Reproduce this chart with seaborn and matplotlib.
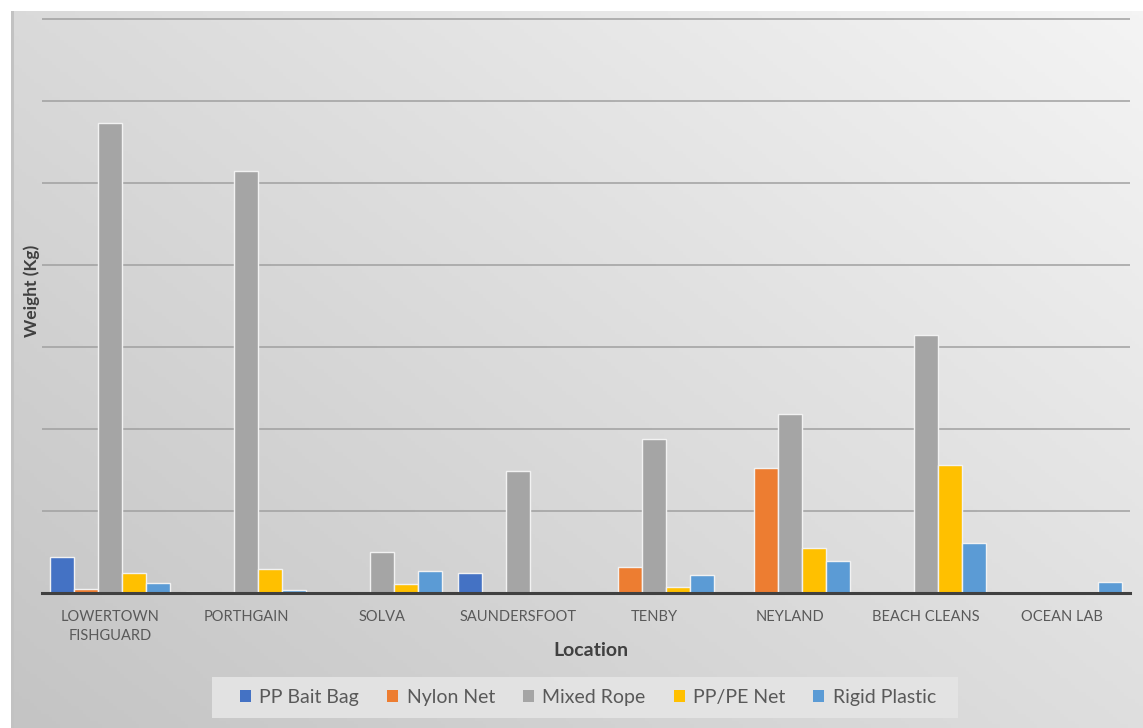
import numpy as np
import pandas as pd
import matplotlib
matplotlib.use("Agg")
import matplotlib.pyplot as plt
from matplotlib.colors import LinearSegmentedColormap
from matplotlib.patches import Patch, Rectangle
import seaborn as sns

locations = ["LOWERTOWN\nFISHGUARD", "PORTHGAIN", "SOLVA", "SAUNDERSFOOT",
             "TENBY", "NEYLAND", "BEACH CLEANS", "OCEAN LAB"]
materials = ["PP Bait Bag", "Nylon Net", "Mixed Rope", "PP/PE Net", "Rigid Plastic"]

pp_bait_bag = [4.4, 0.1, 0.0, 2.5, 0.0, 0.0, 0.0, 0.1]
nylon_net = [0.5, 0.0, 0.0, 0.0, 3.2, 15.2, 0.0, 0.1]
mixed_rope = [57.3, 51.5, 5.0, 14.9, 18.8, 21.8, 31.5, 0.1]
pp_pe_net = [2.4, 2.9, 1.1, 0.0, 0.7, 5.5, 15.6, 0.1]
rigid_plastic = [1.2, 0.4, 2.7, 0.0, 2.2, 3.9, 6.1, 1.4]

palette = ["#4472C4", "#ED7D31", "#A5A5A5", "#FFC000", "#5B9BD5"]

df = pd.DataFrame({
    "Location": locations * 5,
    "Material": np.repeat(materials, len(locations)),
    "Weight": pp_bait_bag + nylon_net + mixed_rope + pp_pe_net + rigid_plastic,
})

W, H = 1143, 728
fig = plt.figure(figsize=(W / 100, H / 100), dpi=100)
fig.patch.set_facecolor("white")

# soft diagonal gradient panel behind the chart
bg = fig.add_axes([11 / W, 0, 1 - 11 / W, 1 - 11 / H], zorder=0)
yy, xx = np.mgrid[0:1:200j, 0:1:300j]
t = 0.55 * xx + 0.45 * (1 - yy)
cmap = LinearSegmentedColormap.from_list("panel", ["#c4c4c4", "#dcdcdc", "#f4f4f4"])
bg.imshow(t, cmap=cmap, aspect="auto", extent=[0, 1, 0, 1], origin="upper")
bg.set_axis_off()
fig.add_artist(Rectangle((11 / W, 0), 3 / W, 1 - 11 / H, transform=fig.transFigure,
                         facecolor="#c2c2c2", edgecolor="none", zorder=0.5))

ax = fig.add_axes([42 / W, 135 / H, (1130 - 42) / W, 582 / H], zorder=1)
ax.patch.set_alpha(0)

sns.barplot(data=df, x="Location", y="Weight", hue="Material", hue_order=materials,
            palette=palette, width=0.88, edgecolor="#f2f2f2", linewidth=1.0,
            saturation=1, errorbar=None, ax=ax, legend=False, zorder=3)

ax.set_ylim(0, 71)
ax.set_xlim(-0.5, len(locations) - 0.5)
ax.set_yticks(np.arange(10, 71, 10))
ax.set_yticklabels([])
ax.tick_params(axis="y", length=0)
ax.tick_params(axis="x", length=0, pad=12, labelsize=10.5, labelcolor="#595959")
for lab in ax.get_xticklabels():
    lab.set_fontfamily("Lato")
    lab.set_linespacing(1.5)
ax.grid(axis="y", color="#a0a0a0", linewidth=1.1, zorder=0)
ax.set_axisbelow(True)
for s in ["top", "right", "left"]:
    ax.spines[s].set_visible(False)
ax.spines["bottom"].set_color("#404040")
ax.spines["bottom"].set_linewidth(2.2)
ax.spines["bottom"].set_zorder(4)

ax.set_xlabel("")
ax.set_ylabel("")
fig.text(591 / W, 1 - 650 / H, "Location", fontsize=14, fontweight="bold",
         color="#404040", family="Lato", ha="center", va="center")
fig.text(32 / W, 1 - 291 / H, "Weight (Kg)", fontsize=12.5, fontweight="bold",
         color="#404040", family="Lato", ha="center", va="center", rotation=90)

# legend strip
fig.add_artist(Rectangle((212 / W, 1 - 718 / H), (958 - 212) / W, 41 / H,
                         transform=fig.transFigure, facecolor="#e4e4e4",
                         edgecolor="none", alpha=0.95, zorder=2))
handles = [Patch(facecolor=c, edgecolor="none", label=m) for c, m in zip(palette, materials)]
leg = fig.legend(handles=handles, loc="center", bbox_to_anchor=(588 / W, 1 - 697 / H),
                 ncol=5, frameon=False, handlelength=0.57, handleheight=0.57,
                 handletextpad=0.42, columnspacing=1.45,
                 prop={"family": "Lato", "size": 14})
leg.set_zorder(3)
for txt in leg.get_texts():
    txt.set_color("#595959")

fig.savefig("out.png", dpi=100)
